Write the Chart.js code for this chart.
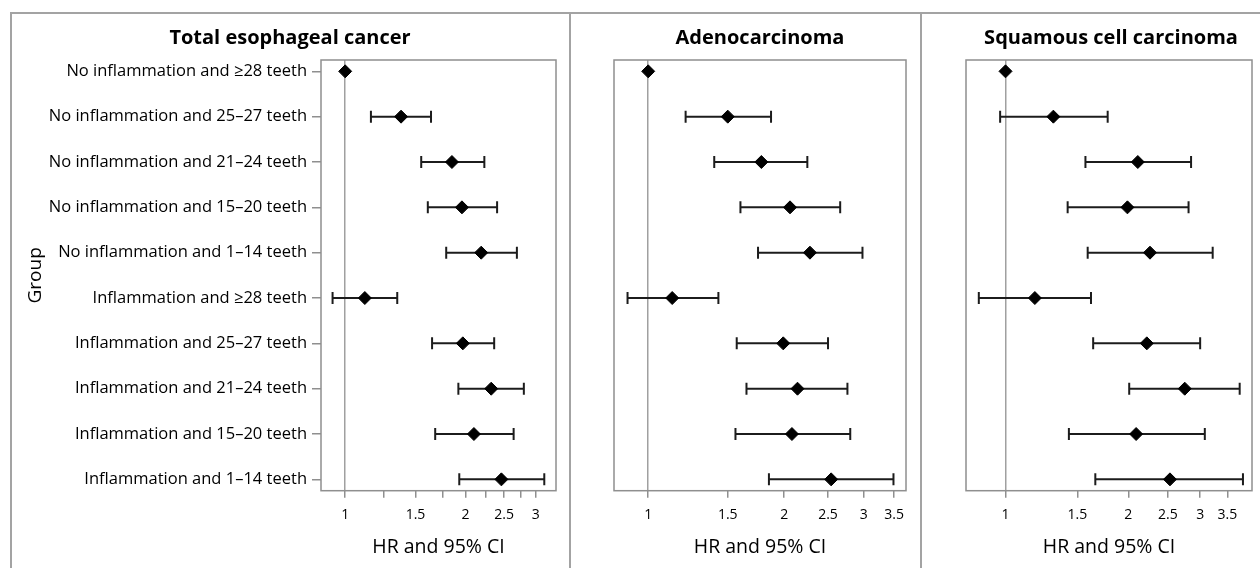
<!DOCTYPE html>
<html>
<head>
<meta charset="utf-8">
<script src="https://cdn.jsdelivr.net/npm/chart.js@4.4.0/dist/chart.umd.min.js"></script>
<style>
  body { margin: 0; background: #fff; width: 1260px; height: 568px; overflow: hidden; position: relative; }
  .outer { position: absolute; left: 10px; top: 12px; width: 1262px; height: 570px; border: 2px solid #a3a3a3; box-sizing: border-box; }
  .divider { position: absolute; top: 12px; height: 556px; width: 2px; background: #a3a3a3; }
  canvas { position: absolute; top: 0; }
</style>
</head>
<body>
<div class="outer"></div>
<div class="divider" style="left:569px"></div>
<div class="divider" style="left:920px"></div>
<canvas id="totalChart" width="560" height="568" style="left:10px"></canvas>
<canvas id="adenoChart" width="351" height="568" style="left:570px"></canvas>
<canvas id="squamousChart" width="339" height="568" style="left:921px"></canvas>
<script>
// groups, top to bottom
var groups = [
  "No inflammation and ≥28 teeth",
  "No inflammation and 25–27 teeth",
  "No inflammation and 21–24 teeth",
  "No inflammation and 15–20 teeth",
  "No inflammation and 1–14 teeth",
  "Inflammation and ≥28 teeth",
  "Inflammation and 25–27 teeth",
  "Inflammation and 21–24 teeth",
  "Inflammation and 15–20 teeth",
  "Inflammation and 1–14 teeth"
];

// hazard ratios and 95% CI (first row is the reference group)
var totalHR = [1, 1.38, 1.85, 1.96, 2.19, 1.12, 1.97, 2.32, 2.10, 2.46];
var totalLo = [null, 1.16, 1.55, 1.61, 1.79, 0.93, 1.65, 1.92, 1.68, 1.93];
var totalHi = [null, 1.64, 2.23, 2.40, 2.69, 1.35, 2.36, 2.80, 2.64, 3.15];

var adenoHR = [1, 1.50, 1.78, 2.06, 2.28, 1.13, 1.99, 2.14, 2.08, 2.54];
var adenoLo = [null, 1.21, 1.40, 1.60, 1.75, 0.90, 1.57, 1.65, 1.56, 1.85];
var adenoHi = [null, 1.87, 2.25, 2.66, 2.98, 1.43, 2.50, 2.76, 2.80, 3.49];

var squamousHR = [1, 1.31, 2.11, 1.99, 2.26, 1.18, 2.22, 2.75, 2.09, 2.53];
var squamousLo = [null, 0.97, 1.57, 1.42, 1.59, 0.86, 1.64, 2.01, 1.43, 1.66];
var squamousHi = [null, 1.78, 2.85, 2.81, 3.22, 1.62, 3.00, 3.75, 3.08, 3.82];

// x axis ticks
var totalTicks = [1, 1.25, 1.5, 1.75, 2, 2.25, 2.5, 2.75, 3];
var totalTickLabels = ["1", "", "1.5", "", "2", "", "2.5", "", "3"];
var subTicks = [1, 1.5, 2, 2.5, 3, 3.5];
var subTickLabels = ["1", "1.5", "2", "2.5", "3", "3.5"];

var fontFamily = "'Open Sans', 'DejaVu Sans', sans-serif";
var axisGray = '#8f8f8f';
Chart.defaults.color = '#000';
Chart.defaults.font.family = fontFamily;

// box round the plot area
var plotFrame = {
  id: 'plotFrame',
  beforeDatasetsDraw: function (chart) {
    var a = chart.chartArea;
    var ctx = chart.ctx;
    ctx.save();
    ctx.strokeStyle = axisGray;
    ctx.lineWidth = 1.5;
    ctx.strokeRect(a.left, a.top, a.right - a.left, a.bottom - a.top);
    ctx.restore();
  }
};

function buildDatasets(hr, lo, hi) {
  var sets = [{
    type: 'scatter',
    data: hr.map(function (v, i) { return {x: v, y: i}; }),
    pointStyle: 'rectRot',
    pointRadius: 6.5,
    backgroundColor: '#000',
    borderColor: '#000',
    borderWidth: 1
  }];
  for (var i = 0; i < hr.length; i++) {
    if (lo[i] === null) continue;
    sets.push({
      type: 'line',
      data: [{x: lo[i], y: i}, {x: hi[i], y: i}],
      showLine: true,
      borderColor: '#1c1c1c',
      borderWidth: 2,
      pointStyle: 'line',
      pointRotation: 90,
      pointRadius: 6,
      pointBorderWidth: 2,
      pointBorderColor: '#1c1c1c',
      fill: false
    });
  }
  return sets;
}

function buildConfig(title, hr, lo, hi, xMin, xMax, ticks, tickLabels, showGroups, pad) {
  return {
    type: 'scatter',
    data: { datasets: buildDatasets(hr, lo, hi) },
    options: {
      responsive: false,
      animation: false,
      events: [],
      layout: { padding: pad },
      plugins: {
        legend: { display: false },
        tooltip: { enabled: false },
        title: {
          display: true,
          text: title,
          color: '#000',
          font: { size: 20, weight: 'bold' },
          padding: { top: 26.5, bottom: 9.5 }
        }
      },
      scales: {
        x: {
          type: 'logarithmic',
          min: xMin,
          max: xMax,
          afterBuildTicks: function (scale) {
            scale.ticks = ticks.map(function (v) { return {value: v}; });
          },
          afterFit: function (scale) { scale.height = 77.3; },
          border: { display: false },
          grid: {
            color: function (ctx) {
              return ctx.tick && ctx.tick.value === 1 ? '#a0a0a0' : 'rgba(0,0,0,0)';
            },
            tickColor: axisGray,
            lineWidth: 1.5,
            tickLength: 7
          },
          ticks: {
            autoSkip: false,
            maxRotation: 0,
            padding: 9,
            font: { size: 14 },
            callback: function (value, index) { return tickLabels[index]; }
          },
          title: {
            display: true,
            text: 'HR and 95% CI',
            font: { size: 19.5 },
            padding: { top: 0, bottom: 9.3 }
          }
        },
        y: {
          type: 'linear',
          reverse: true,
          min: -0.25,
          max: 9.25,
          display: showGroups,
          afterBuildTicks: function (scale) {
            scale.ticks = groups.map(function (g, i) { return {value: i}; });
          },
          afterFit: function (scale) { scale.width = showGroups ? 297 : 0; },
          border: { display: false },
          grid: {
            drawOnChartArea: false,
            tickColor: axisGray,
            lineWidth: 1.5,
            tickLength: 9
          },
          ticks: {
            autoSkip: false,
            padding: 5,
            font: { size: 16.5 },
            callback: function (value) { return groups[value]; }
          },
          title: {
            display: true,
            text: 'Group',
            font: { size: 19 },
            padding: { top: 0, bottom: 0 }
          }
        }
      }
    },
    plugins: [plotFrame]
  };
}

var totalChart = new Chart(document.getElementById('totalChart'),
  buildConfig('Total esophageal cancer', totalHR, totalLo, totalHi, 0.87, 3.37,
    totalTicks, totalTickLabels, true, {left: 14, right: 14, top: 0, bottom: 0}));

var adenoChart = new Chart(document.getElementById('adenoChart'),
  buildConfig('Adenocarcinoma', adenoHR, adenoLo, adenoHi, 0.84, 3.72,
    subTicks, subTickLabels, false, {left: 44, right: 15, top: 0, bottom: 0}));

var squamousChart = new Chart(document.getElementById('squamousChart'),
  buildConfig('Squamous cell carcinoma', squamousHR, squamousLo, squamousHi, 0.80, 4.02,
    subTicks, subTickLabels, false, {left: 45, right: 4, top: 0, bottom: 0}));
</script>
</body>
</html>
